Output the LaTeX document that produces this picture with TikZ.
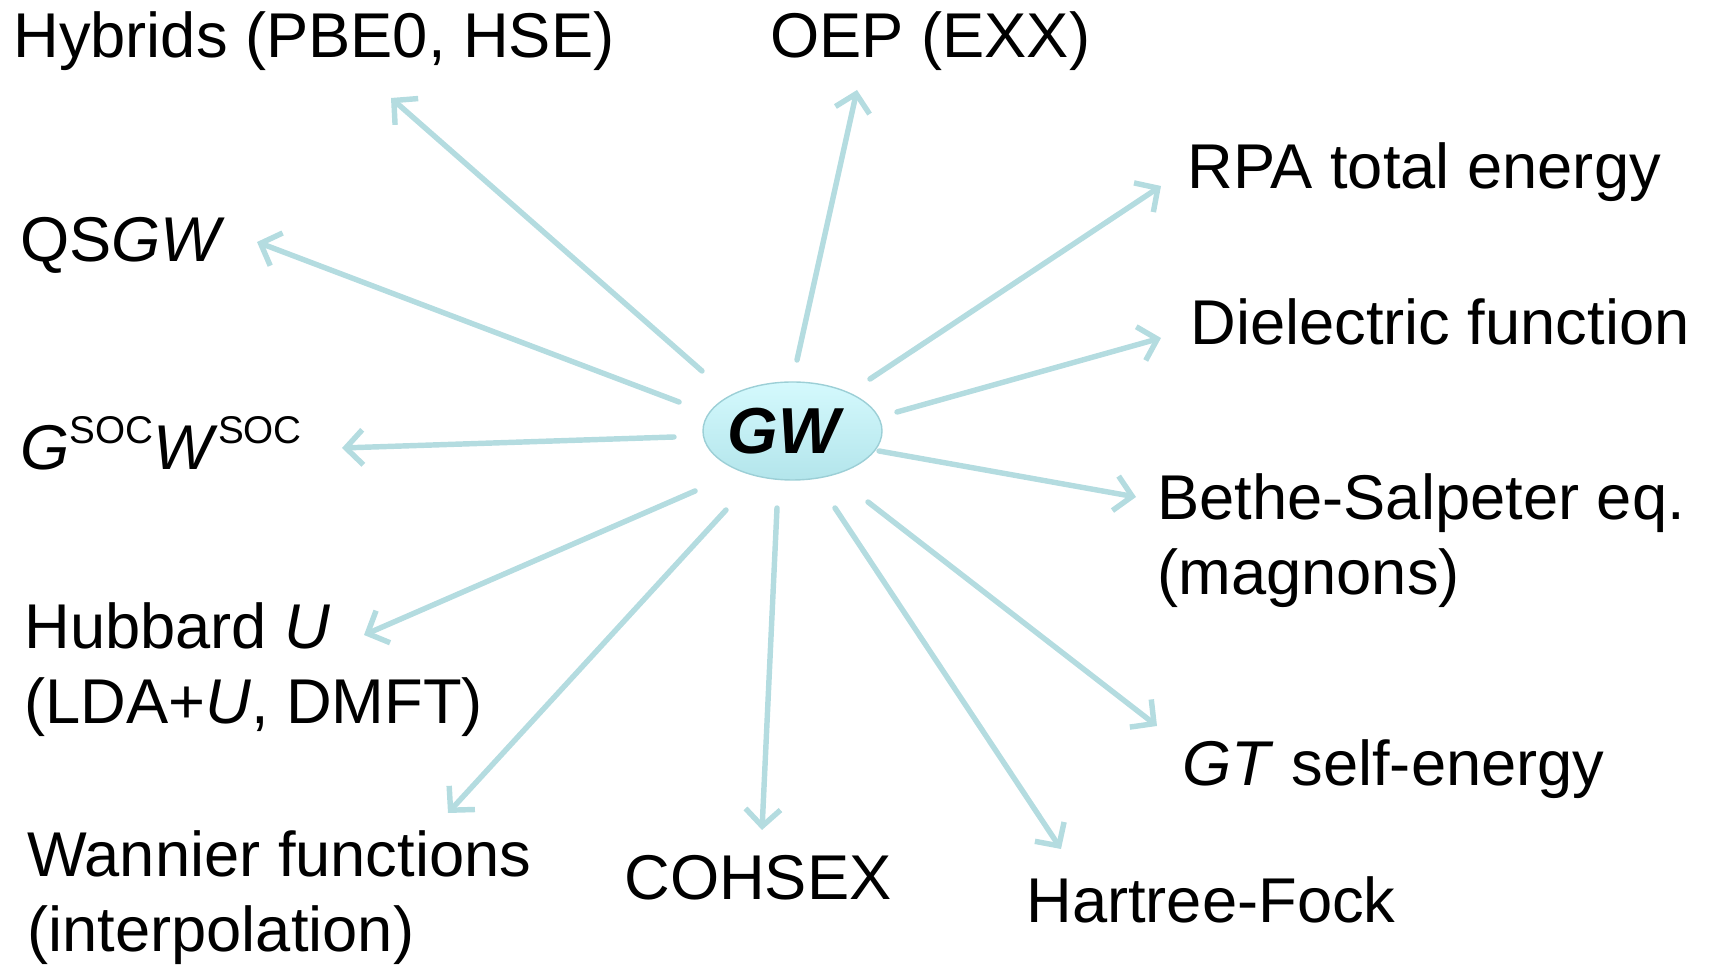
\documentclass[tikz,border=0pt]{standalone}
\usepackage{fontspec}
\setmainfont{Liberation Sans}
\usetikzlibrary{arrows.meta,shapes.geometric}
\definecolor{arrowblue}{HTML}{B4DCE0}
\definecolor{gwtop}{HTML}{D4F9FD}
\definecolor{gwbot}{HTML}{B3E5EB}
\definecolor{gwrim}{HTML}{9CCFD6}
\tikzset{
  mylabel/.style = {anchor=base west, align=left, inner sep=0pt, font=\fontsize{36}{43}\selectfont},
  mygw/.style = {ellipse, draw=gwrim, line width=0.8pt, top color=gwtop, bottom color=gwbot, minimum width=3.58cm, minimum height=1.96cm, inner sep=0pt, font=\fontsize{37}{44}\selectfont\bfseries\itshape},
  myarrow/.style = {-{Straight Barb[length=3.4mm,width=7mm]}, line width=3.1pt, draw=arrowblue, line cap=round, line join=round},
}
\newcommand{\socsup}{\raisebox{15pt}{\fontsize{22}{22}\selectfont SOC}}

\begin{document}
\begin{tikzpicture}
\useasboundingbox (0,0) rectangle (34.24,19.40);

\node (gw) [mygw] at (15.85,10.78) {\kern-0.36cm GW};

% labels (two-line ones sit on their last line)
\node (hyb) [mylabel] at (0.26,18.24) {Hybrids (PBE0, HSE)};
\node (oep) [mylabel] at (15.40,18.24) {OEP (EXX)};
\node (rpa) [mylabel] at (23.74,15.62) {RPA total energy};
\node (die) [mylabel] at (23.80,12.50) {Dielectric function};
\node (bse) [mylabel] at (23.14,7.50) {Bethe-Salpeter eq.\\(magnons)};
\node (gt) [mylabel] at (23.64,3.68) {\textit{GT} self-energy};
\node (hf) [mylabel] at (20.52,0.94) {Hartree-Fock};
\node (coh) [mylabel] at (12.48,1.42) {COHSEX};
\node (wan) [mylabel] at (0.54,0.36) {Wannier functions\\(interpolation)};
\node (hub) [mylabel] at (0.48,4.92) {Hubbard \textit{U}\\(LDA+\textit{U}, DMFT)};
\node (soc) [mylabel] at (0.40,10.00) {\textit{G}\socsup\textit{W}\socsup};
\node (qsg) [mylabel] at (0.40,14.16) {QS\textit{GW}};

% arrow ends
\coordinate (hyb-s) at (14.04,11.98); \coordinate (hyb-e) at (7.82,17.44);
\coordinate (oep-s) at (15.94,12.20); \coordinate (oep-e) at (17.14,17.60);
\coordinate (rpa-s) at (17.40,11.82); \coordinate (rpa-e) at (23.22,15.68);
\coordinate (die-s) at (17.94,11.16); \coordinate (die-e) at (23.22,12.64);
\coordinate (bse-s) at (17.58,10.38); \coordinate (bse-e) at (22.72,9.46);
\coordinate (gt-s)  at (17.36,9.36);  \coordinate (gt-e)  at (23.14,4.88);
\coordinate (hf-s)  at (16.70,9.24);  \coordinate (hf-e)  at (21.22,2.42);
\coordinate (coh-s) at (15.54,9.24);  \coordinate (coh-e) at (15.24,2.80);
\coordinate (wan-s) at (14.52,9.20);  \coordinate (wan-e) at (8.96,3.14);
\coordinate (hub-s) at (13.90,9.58);  \coordinate (hub-e) at (7.28,6.70);
\coordinate (soc-s) at (13.48,10.66); \coordinate (soc-e) at (6.84,10.44);
\coordinate (qsg-s) at (13.58,11.36); \coordinate (qsg-e) at (5.14,14.56);

\foreach \n in {hyb,oep,rpa,die,bse,gt,hf,coh,wan,hub,soc,qsg}{
  \draw[myarrow] (\n-s) -- (\n-e);
}
\end{tikzpicture}
\end{document}
